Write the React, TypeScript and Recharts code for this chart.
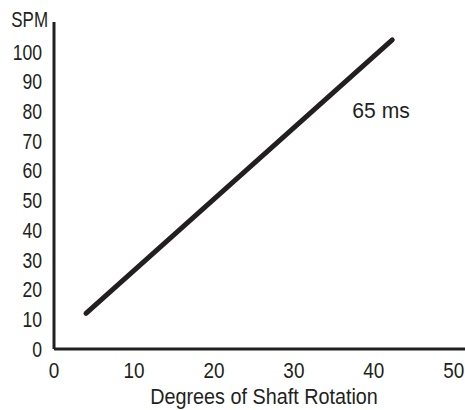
import { LineChart, Line, XAxis, YAxis, ReferenceDot } from 'recharts'

// values
const degrees = [4, 42.3]
const spm = [12, 104]
const xTicks = [0, 10, 20, 30, 40, 50]
const yTicks = [0, 10, 20, 30, 40, 50, 60, 70, 80, 90, 100]
const note = { x: 40.9, y: 80.3, text: '65 ms' }

const data = degrees.map((d, i) => ({ x: d, y: spm[i] }))

const FONT = '"Liberation Sans Narrow", "Arial Narrow", "Liberation Sans", Arial, sans-serif'
const INK = '#231f20'
const FS = 22

// the original uses a condensed face; squeeze the regular one instead
const squeezed = (x: number, y: number, sx: number, anchor: string, text: string, dy = '0') => (
  <text
    transform={`translate(${x},${y}) scale(${sx},1)`}
    textAnchor={anchor}
    dy={dy}
    fill={INK}
    fontSize={FS}
    fontFamily={FONT}
  >
    {text}
  </text>
)

const XTick = ({ x, y, payload }: any) => squeezed(x, y, 0.86, 'middle', String(payload.value), '0.71em')
const YTick = ({ x, y, payload }: any) => squeezed(x, y, 0.8, 'end', String(payload.value), '0.355em')

export default function App() {
  return (
    <div style={{ position: 'absolute', left: 0, top: 0, width: 465, height: 410, background: '#fff' }}>
      <LineChart
        width={465}
        height={410}
        data={data}
        margin={{ top: 22, right: 0, bottom: 31, left: 0 }}
        style={{ fontFamily: FONT }}
      >
        <XAxis
          type="number"
          dataKey="x"
          domain={[0, 51.4]}
          ticks={xTicks}
          allowDataOverflow
          height={30}
          tickLine={false}
          tickSize={6}
          tickMargin={7}
          axisLine={{ stroke: INK, strokeWidth: 3 }}
          tick={XTick}
          label={{
            content: ({ viewBox }: any) =>
              squeezed(viewBox.x + 210, viewBox.y + 55, 0.9, 'middle', 'Degrees of Shaft Rotation'),
          }}
        />
        <YAxis
          type="number"
          dataKey="y"
          domain={[0, 110]}
          ticks={yTicks}
          allowDataOverflow
          width={54}
          tickLine={false}
          tickSize={6}
          tickMargin={6}
          axisLine={{ stroke: INK, strokeWidth: 3 }}
          tick={YTick}
          label={{
            content: ({ viewBox }: any) => squeezed(viewBox.x + 48, viewBox.y + 5, 0.77, 'end', 'SPM'),
          }}
        />
        <Line
          type="linear"
          dataKey="y"
          stroke={INK}
          strokeWidth={5}
          strokeLinecap="round"
          dot={false}
          isAnimationActive={false}
        />
        <ReferenceDot
          x={note.x}
          y={note.y}
          r={1}
          fill="none"
          stroke="none"
          label={{
            content: ({ viewBox }: any) =>
              squeezed(viewBox.x + viewBox.width / 2, viewBox.y + viewBox.height / 2, 0.96, 'middle', note.text, '0.355em'),
          }}
        />
      </LineChart>
    </div>
  )
}
